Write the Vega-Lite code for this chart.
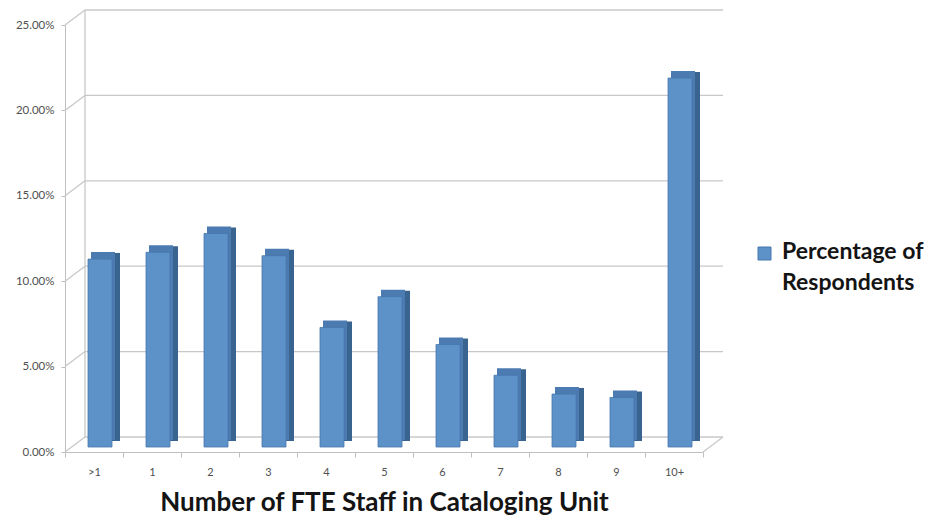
{
  "$schema": "https://vega.github.io/schema/vega-lite/v6.json",
  "width": 638,
  "height": 427,
  "autosize": {"type": "none"},
  "padding": {"left": 65, "top": 25, "right": 227, "bottom": 64},
  "background": "white",
  "config": {"view": {"stroke": null}, "font": "Lato"},
  "datasets": {
    "staff": [
      {"fte": ">1", "pct": 0.110},
      {"fte": "1", "pct": 0.114},
      {"fte": "2", "pct": 0.125},
      {"fte": "3", "pct": 0.112},
      {"fte": "4", "pct": 0.070},
      {"fte": "5", "pct": 0.088},
      {"fte": "6", "pct": 0.060},
      {"fte": "7", "pct": 0.042},
      {"fte": "8", "pct": 0.031},
      {"fte": "9", "pct": 0.029},
      {"fte": "10+", "pct": 0.216}
    ],
    "ticks": [
      {"v": 0}, {"v": 0.05}, {"v": 0.1}, {"v": 0.15}, {"v": 0.2}, {"v": 0.25}
    ]
  },
  "layer": [
    {
      "data": {"name": "staff"},
      "mark": {"type": "bar", "opacity": 0, "size": 24},
      "encoding": {
        "x": {
          "field": "fte", "type": "nominal",
          "scale": {"domain": [">1", "1", "2", "3", "4", "5", "6", "7", "8", "9", "10+"], "paddingInner": 0, "paddingOuter": 0},
          "axis": {
            "title": "Number of FTE Staff in Cataloging Unit",
            "labelAngle": 0, "tickBand": "extent", "tickSize": 5,
            "domainColor": "#bfbfbf", "tickColor": "#bfbfbf",
            "labelFontSize": 11, "labelColor": "#505050", "labelPadding": 9,
            "titleFontSize": 26, "titleFontWeight": "bold", "titleColor": "#141414", "titlePadding": 12
          }
        },
        "y": {
          "field": "pct", "type": "quantitative",
          "scale": {"domain": [0, 0.25], "nice": false},
          "axis": {
            "title": null, "format": ".2%", "values": [0, 0.05, 0.1, 0.15, 0.2, 0.25],
            "grid": false, "domainColor": "#bfbfbf", "tickColor": "#bfbfbf", "tickSize": 4,
            "labelFontSize": 11.5, "labelColor": "#505050", "labelPadding": 7
          }
        }
      }
    },
    {
      "data": {"name": "ticks"},
      "mark": {"type": "rule", "color": "#c8c8c8", "strokeWidth": 1.3, "xOffset": 20, "x2Offset": 20, "yOffset": -15},
      "encoding": {
        "x": {"datum": ">1", "type": "nominal", "bandPosition": 0},
        "x2": {"datum": "10+", "bandPosition": 1},
        "y": {"field": "v", "type": "quantitative"}
      }
    },
    {
      "data": {"name": "ticks"},
      "mark": {"type": "rule", "color": "#c8c8c8", "strokeWidth": 1.3, "x2Offset": 20, "y2Offset": -15},
      "encoding": {
        "x": {"datum": ">1", "type": "nominal", "bandPosition": 0},
        "x2": {"datum": ">1", "bandPosition": 0},
        "y": {"field": "v", "type": "quantitative"},
        "y2": {"field": "v"}
      }
    },
    {
      "data": {"values": [{"lo": 0, "hi": 0.25}]},
      "mark": {"type": "rule", "color": "#c8c8c8", "strokeWidth": 1.3, "xOffset": 20, "yOffset": -15, "y2Offset": -15},
      "encoding": {
        "x": {"datum": ">1", "type": "nominal", "bandPosition": 0},
        "y": {"field": "lo", "type": "quantitative"},
        "y2": {"field": "hi"}
      }
    },
    {
      "data": {"values": [{"lo": 0}]},
      "mark": {"type": "rule", "color": "#c8c8c8", "strokeWidth": 1.3, "x2Offset": 20, "y2Offset": -15},
      "encoding": {
        "x": {"datum": "10+", "type": "nominal", "bandPosition": 1},
        "x2": {"datum": "10+", "bandPosition": 1},
        "y": {"field": "lo", "type": "quantitative"},
        "y2": {"field": "lo"}
      }
    },
    {
      "data": {"name": "staff"},
      "mark": {"type": "bar", "color": "#3a6490", "size": 24, "xOffset": 14, "x2Offset": 14, "yOffset": -11, "y2Offset": -11},
      "encoding": {
        "x": {"field": "fte", "type": "nominal"},
        "y": {"field": "pct", "type": "quantitative"}
      }
    },
    {
      "data": {"name": "staff"},
      "mark": {"type": "bar", "color": "#4b7bb0", "size": 24, "xOffset": 9, "x2Offset": 9, "yOffset": -12, "y2Offset": -12},
      "encoding": {
        "x": {"field": "fte", "type": "nominal"},
        "y": {"field": "pct", "type": "quantitative"}
      }
    },
    {
      "data": {"name": "staff"},
      "mark": {"type": "bar", "size": 24, "stroke": "#4677ab", "strokeWidth": 0.8, "xOffset": 6, "x2Offset": 6, "yOffset": -5, "y2Offset": -5},
      "encoding": {
        "x": {"field": "fte", "type": "nominal"},
        "y": {"field": "pct", "type": "quantitative"},
        "color": {
          "datum": "Percentage of Respondents",
          "scale": {"range": ["#5d92c9"]},
          "legend": {
            "title": null, "orient": "none", "legendX": 688, "legendY": 217,
            "symbolType": "square", "symbolSize": 169, "symbolStrokeColor": "#4677ab", "symbolStrokeWidth": 1,
            "labelFontSize": 23, "labelFontWeight": "bold", "labelColor": "#141414",
            "labelLimit": 300, "labelOffset": 6, "labelBaseline": "top",
            "labelExpr": "['Percentage of', 'Respondents']",
            "padding": 0,
            "encode": {"labels": {"update": {"lineHeight": {"value": 31}, "dy": {"value": -13}}}}
          }
        }
      }
    }
  ]
}
